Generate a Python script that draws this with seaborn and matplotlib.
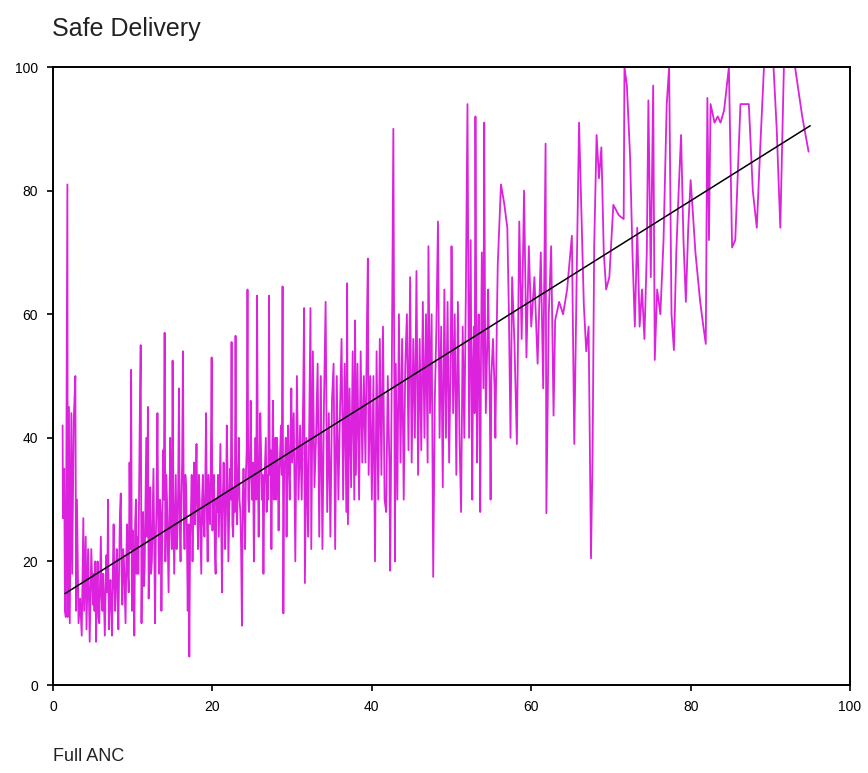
import matplotlib
matplotlib.use("Agg")
import matplotlib.pyplot as plt
import seaborn as sns
import pandas as pd

# ---- data (Full ANC vs Safe Delivery) ----
anc_a = [1.2, 1.25, 1.4, 1.5, 1.6, 1.8, 1.85, 2.0, 2.1, 2.3, 2.4, 2.6, 2.8, 2.9, 3.0, 3.2, 3.4, 3.6,
         3.8, 3.9, 4.1, 4.2, 4.4, 4.6, 4.8, 5.0]
sd_a = [42, 27, 35, 12, 11, 81, 11, 45, 10, 44, 18, 43, 50, 12, 30, 10, 14, 8,
        27, 12, 24, 9, 22, 7, 22, 13]

anc_b = [5.1, 5.2, 5.3, 5.4, 5.5, 5.6, 5.7, 5.8, 5.9, 6.0,
         6.1, 6.2, 6.3, 6.4, 6.5, 6.6, 6.7, 6.8, 6.9, 7.0,
         7.1, 7.2, 7.3, 7.4, 7.5, 7.6, 7.7, 7.8, 7.9, 8.0,
         8.1, 8.2, 8.3, 8.4, 8.5, 8.6, 8.7, 8.8, 8.9, 9.0,
         9.1, 9.2, 9.3, 9.4, 9.5, 9.6, 9.7, 9.8, 9.9, 10.0]
sd_b = [18, 12, 20, 7, 15, 20, 11, 10, 17, 24,
        14, 12, 18, 13, 8, 16, 21, 15, 30, 9,
        14, 17, 12, 8, 18, 26, 16, 12, 19, 22,
        14, 9, 20, 28, 31, 18, 13, 22, 20, 15,
        10, 21, 26, 18, 15, 36, 22, 51, 12, 25]

anc_c = [10.1, 10.2, 10.3, 10.4, 10.5, 10.6, 10.7, 10.8, 10.9, 11.0,
         11.1, 11.2, 11.3, 11.4, 11.5, 11.6, 11.7, 11.8, 11.9, 12.0,
         12.1, 12.2, 12.3, 12.4, 12.5, 12.6, 12.7, 12.8, 12.9, 13.0,
         13.1, 13.2, 13.3, 13.4, 13.5, 13.6, 13.7, 13.8, 13.9, 14.0,
         14.1, 14.2, 14.3, 14.4, 14.5, 14.6, 14.7, 14.8, 14.9, 15.0,
         15.1, 15.2, 15.3, 15.4, 15.5, 15.6, 15.7, 15.8, 15.9, 16.0,
         16.1, 16.2, 16.3, 16.4, 16.5, 16.6, 16.7, 16.8, 16.9, 17.0,
         17.1, 17.2, 17.3, 17.4, 17.5, 17.6, 17.7, 17.8, 17.9, 18.0,
         18.1, 18.2, 18.3, 18.4, 18.5, 18.6, 18.7, 18.8, 18.9, 19.0,
         19.1, 19.2, 19.3, 19.4, 19.5, 19.6, 19.7, 19.8, 19.9, 20.0]
sd_c = [20, 8, 26, 30, 18, 24, 18, 32, 45, 55,
        10, 22, 28, 16, 19, 30, 40, 24, 45, 14,
        26, 32, 18, 20, 28, 35, 22, 10, 24, 30,
        44, 26, 18, 30, 28, 12, 24, 38, 30, 57,
        20, 34, 30, 22, 15, 28, 40, 26, 22, 52.5,
        30, 18, 26, 34, 22, 24, 32, 48, 26, 20,
        30, 36, 54, 28, 22, 34, 32, 24, 12, 26,
        4.6, 24, 28, 34, 20, 30, 36, 26, 32, 39,
        28, 22, 34, 30, 24, 18, 30, 34, 26, 24,
        32, 44, 28, 20, 34, 30, 26, 36, 53, 25]

anc_d = [20.1, 20.2, 20.3, 20.4, 20.5, 20.6, 20.7, 20.8, 20.9, 21.0,
         21.1, 21.2, 21.3, 21.4, 21.5, 21.6, 21.7, 21.8, 21.9, 22.0,
         22.1, 22.2, 22.3, 22.4, 22.5, 22.6, 22.7, 22.8, 22.9, 23.0,
         23.1, 23.2, 23.3, 23.4, 23.5, 23.6, 23.7, 23.8, 23.9, 24.0,
         24.1, 24.2, 24.3, 24.4, 24.5, 24.6, 24.7, 24.8, 24.9, 25.0,
         25.1, 25.2, 25.3, 25.4, 25.5, 25.6, 25.7, 25.8, 25.9, 26.0,
         26.1, 26.2, 26.3, 26.4, 26.5, 26.6, 26.7, 26.8, 26.9, 27.0,
         27.1, 27.2, 27.3, 27.4, 27.5, 27.6, 27.7, 27.8, 27.9, 28.0,
         28.1, 28.2, 28.3, 28.4, 28.5, 28.6, 28.7, 28.8, 28.9, 29.0,
         29.1, 29.2, 29.3, 29.4, 29.5, 29.6, 29.7, 29.8, 29.9, 30.0]
sd_d = [30, 34, 22, 18, 30, 28, 34, 24, 32, 39,
        26, 15, 30, 36, 30, 22, 28, 42, 34, 20,
        28, 35, 30, 55.5, 26, 24, 32, 28, 56.5, 30,
        26, 34, 40, 30, 28, 22, 9.6, 30, 35, 28,
        22, 34, 38, 64, 30, 28, 36, 46, 34, 30,
        36, 20, 32, 40, 30, 63, 36, 24, 34, 44,
        38, 30, 34, 18, 32, 36, 40, 28, 34, 30,
        63, 34, 38, 22, 36, 46, 30, 32, 40, 30,
        40, 36, 25, 34, 38, 42, 34, 64.5, 11.6, 36,
        36, 40, 24, 38, 42, 34, 30, 40, 48, 36]

anc_e = [30.2, 30.4, 30.6, 30.8, 31.0, 31.2, 31.4, 31.5, 31.6, 31.8,
         32.0, 32.3, 32.4, 32.6, 32.8, 33.0, 33.2, 33.4, 33.6, 33.8,
         34.0, 34.2, 34.4, 34.6, 34.8, 35.0, 35.2, 35.4, 35.6, 35.8,
         36.0, 36.2, 36.4, 36.6, 36.8, 36.9, 37.0, 37.2, 37.4, 37.6,
         37.8, 37.9, 38.0, 38.2, 38.4, 38.6, 38.8, 39.0, 39.2, 39.4,
         39.5, 39.6, 39.8, 40.0]
sd_e = [44, 20, 50, 30, 42, 30, 48, 61, 16.5, 40,
        24, 61, 22, 54, 32, 40, 52, 24, 50, 22,
        46, 62, 28, 44, 24, 46, 52, 22, 50, 30,
        44, 56, 30, 52, 28, 65, 26, 48, 32, 54,
        30, 59, 34, 52, 30, 54, 36, 50, 36, 60,
        69, 34, 50, 30]

anc_f = [40.2, 40.4, 40.6, 40.8, 41.0, 41.2, 41.4, 41.6, 41.8, 42.0,
         42.2, 42.3, 42.5, 42.7, 42.9, 43.0, 43.2, 43.4, 43.6, 43.8,
         44.0, 44.2, 44.4, 44.6, 44.8, 45.0, 45.2, 45.4, 45.6, 45.8,
         46.0, 46.2, 46.4, 46.6, 46.8, 47.0, 47.1, 47.3, 47.5, 47.7,
         47.9, 48.1, 48.3, 48.5, 48.7, 48.9, 49.1, 49.3, 49.5, 49.7,
         49.9, 50.0, 50.2, 50.4, 50.6, 50.8, 51.0, 51.2, 51.4, 51.6,
         51.8, 52.0]
sd_f = [50, 20, 54, 30, 56, 34, 58, 30, 28, 50,
        36, 18.5, 50, 90, 20, 52, 30, 60, 36, 56,
        30, 52, 60, 38, 66, 36, 56, 40, 67, 34,
        56, 38, 62, 40, 60, 36, 71, 44, 60, 17.5,
        46, 58, 75, 40, 58, 32, 64, 40, 62, 36,
        54, 71, 44, 60, 34, 62, 40, 28, 58, 40,
        64, 94]

anc_g = [52.2, 52.3, 52.4, 52.5, 52.6, 52.7, 52.8, 52.9, 53.0, 53.1, 53.2, 53.3, 53.4, 53.5, 53.6,
         53.7, 53.8, 54.0, 54.1, 54.2, 54.3, 54.5, 54.6, 54.8, 54.9, 55.0, 55.2, 55.4, 55.5, 55.7,
         55.8, 56.2, 56.6, 57.0, 57.2, 57.4, 57.6, 57.9, 58.2, 58.5, 58.8, 59.1, 59.4, 59.7, 60.0]
sd_g = [40, 56, 72, 48, 30, 52, 58, 44, 92, 60, 36, 52, 60, 46, 28,
        54, 70, 48, 91, 60, 44, 56, 64, 46, 30, 50, 56, 48, 40, 60,
        68, 81, 78, 74, 60, 40, 66, 55, 39, 75, 56, 80, 53, 71, 58]

anc_h = [60.4, 60.8, 61.2, 61.5, 61.8, 61.9, 62.2, 62.5, 62.8, 63.0, 63.5, 64.0, 64.5, 65.1, 65.4,
         65.7, 66.0, 66.3, 66.6, 66.9, 67.2, 67.5, 67.7, 67.9, 68.2, 68.5, 68.8, 69.1, 69.4, 69.8,
         70.3, 71.0, 71.6, 71.7]
sd_h = [66, 52, 70, 48, 87.6, 27.8, 60, 71, 43.6, 59, 62, 60, 64, 72.7, 39,
        66, 91, 76, 61.5, 54, 58, 20.5, 38, 71, 89, 82, 87, 70, 64, 66,
        77.7, 76, 75.4, 100]

anc_i = [72.0, 72.4, 72.7, 73.0, 73.3, 73.6, 73.9, 74.2, 74.5, 74.7, 75.0, 75.3, 75.5, 75.8, 76.2,
         76.6, 77.0, 77.3, 77.6, 77.9, 78.2, 78.5, 78.8, 79.1, 79.4, 79.7, 80.0, 80.3, 80.6, 80.9,
         81.2, 81.6, 81.9, 82.1, 82.3, 82.5]
sd_i = [97, 85.6, 70, 58, 74, 58, 64, 56, 70, 94.6, 66, 97, 52.6, 64, 60,
        72, 94, 100, 60, 54.2, 70, 80, 89, 72, 62, 74, 81.7, 76, 70, 66,
        62, 58, 55.2, 95, 72, 94]

anc_j = [83.0, 83.4, 83.75, 84.2, 84.8, 85.2, 85.6, 86.25, 86.8, 87.3, 87.8, 88.3, 88.7, 89.2,
         89.6, 90.0, 90.4, 90.8, 91.25, 91.7, 92.2, 92.7, 93.1, 94.0, 94.8]
sd_j = [91, 92, 91, 93, 100, 70.8, 72, 94, 94, 94, 80, 74, 86, 100,
        100, 100, 100, 90, 74, 100, 100, 100, 100, 92, 86.3]

trend_x = [1.5, 95.0]
trend_y = [14.8, 90.5]

x_ticks = [0, 20, 40, 60, 80, 100]
y_ticks = [0, 20, 40, 60, 80, 100]

# ---- plotting ----
sns.set_style("white")
plt.rcParams["font.family"] = ["Liberation Sans", "DejaVu Sans"]

anc = anc_a + anc_b + anc_c + anc_d + anc_e + anc_f + anc_g + anc_h + anc_i + anc_j
safe_delivery = sd_a + sd_b + sd_c + sd_d + sd_e + sd_f + sd_g + sd_h + sd_i + sd_j
df = pd.DataFrame({"anc": anc, "sd": safe_delivery})
tr = pd.DataFrame({"x": trend_x, "y": trend_y})

fig = plt.figure(figsize=(8.68, 7.73), dpi=100)
ax = fig.add_axes([0.0611, 0.1138, 0.9182, 0.7995])

sns.lineplot(data=df, x="anc", y="sd", ax=ax, sort=False, estimator=None,
             color="#dc22dc", linewidth=1.3)
sns.lineplot(data=tr, x="x", y="y", ax=ax, sort=False, estimator=None,
             color="black", linewidth=1.1)

ax.set_xlim(0, 100)
ax.set_ylim(0, 100)
ax.set_xticks(x_ticks)
ax.set_yticks(y_ticks)
ax.set_xticklabels([str(t) for t in x_ticks])
ax.set_yticklabels([str(t) for t in y_ticks])
ax.set_xlabel("")
ax.set_ylabel("")
ax.tick_params(axis="both", direction="out", length=4, width=1.2,
               labelsize=10, pad=7, colors="black", bottom=True, left=True,
               top=False, right=False)
for sp in ax.spines.values():
    sp.set_visible(True)
    sp.set_color("black")
    sp.set_linewidth(1.4)

fig.text(0.060, 0.962, "Safe Delivery", fontsize=18, ha="left", va="center",
         color="#222222")
fig.text(0.061, 0.021, "Full ANC", fontsize=13, ha="left", va="center",
         color="#222222")

fig.savefig("out.png", dpi=100, facecolor="white")
